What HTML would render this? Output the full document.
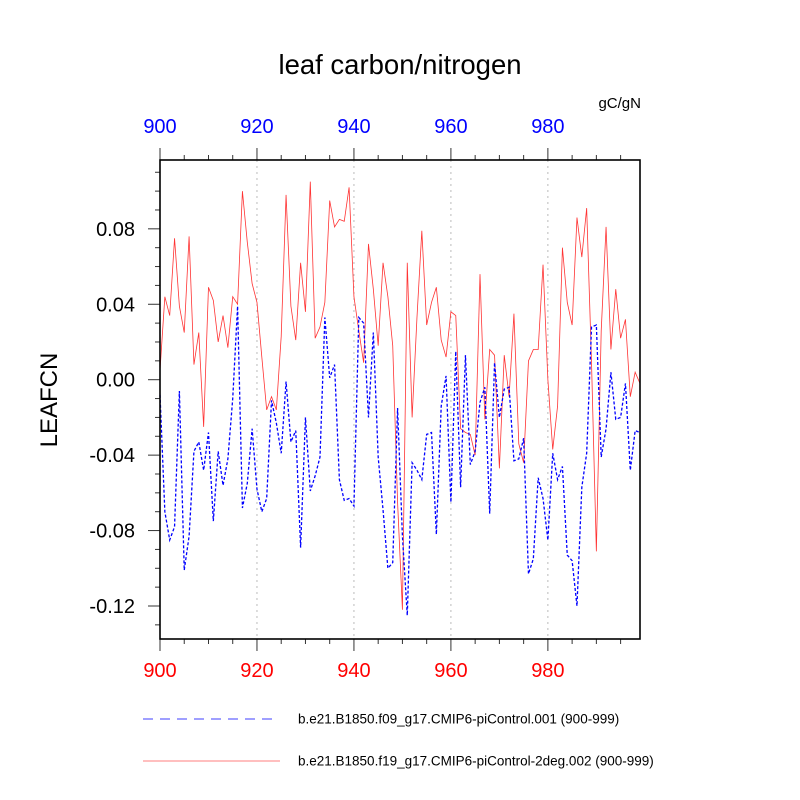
<!DOCTYPE html>
<html><head><meta charset="utf-8"><style>
html,body{margin:0;padding:0;background:#fff;width:800px;height:800px;overflow:hidden}
text{font-family:"Liberation Sans",Arial,sans-serif}
</style></head><body>
<svg id="chart" width="800" height="800" xmlns="http://www.w3.org/2000/svg">
<text x="400" y="74" font-size="27.5" text-anchor="middle">leaf carbon/nitrogen</text>
<text x="641" y="108" font-size="15" text-anchor="end">gC/gN</text>
<text x="0" y="0" font-size="24" text-anchor="middle" transform="translate(57,400) rotate(-90)">LEAFCN</text>
<g id="grid"></g><g id="axes"></g><g id="series"></g>
<rect x="160" y="160" width="480" height="479" fill="none" stroke="#000" stroke-width="1.6"/>
<line x1="143" y1="719" x2="278" y2="719" stroke="#00f" stroke-width="0.8" stroke-dasharray="10,7"/>
<text x="298" y="723.5" font-size="13.5">b.e21.B1850.f09_g17.CMIP6-piControl.001 (900-999)</text>
<line x1="143" y1="761" x2="280" y2="761" stroke="#f00" stroke-width="0.6"/>
<text x="298" y="765.5" font-size="13.5">b.e21.B1850.f19_g17.CMIP6-piControl-2deg.002 (900-999)</text>
</svg>
<script>
const years = Array.from({length:100},(_,i)=>900+i);
const redValues = [0.005,0.044,0.034,0.075,0.039,0.025,0.076,0.008,0.025,-0.025,0.049,0.042,0.020,0.034,0.017,0.044,0.040,0.100,0.073,0.051,0.041,0.012,-0.016,-0.009,-0.016,0.023,0.098,0.039,0.021,0.062,0.036,0.105,0.022,0.028,0.041,0.095,0.081,0.085,0.084,0.102,0.044,0.026,0.009,0.072,0.048,0.018,0.062,0.044,0.018,-0.065,-0.122,0.062,-0.020,0.033,0.079,0.029,0.041,0.049,0.021,0.012,0.036,0.034,-0.026,-0.028,-0.029,-0.040,0.056,-0.021,0.016,0.013,-0.047,0.013,-0.009,0.035,-0.034,-0.044,0.010,0.016,0.016,0.061,0.000,-0.037,-0.014,0.070,0.041,0.029,0.086,0.065,0.091,0.009,-0.091,0.026,0.081,0.016,0.048,0.022,0.032,-0.009,0.004,-0.002];
const blueValues = [-0.008,-0.070,-0.085,-0.078,-0.006,-0.101,-0.083,-0.038,-0.033,-0.048,-0.028,-0.075,-0.038,-0.056,-0.042,-0.010,0.039,-0.068,-0.055,-0.026,-0.058,-0.070,-0.063,-0.011,-0.023,-0.039,-0.001,-0.033,-0.027,-0.089,-0.020,-0.059,-0.051,-0.041,0.033,0.001,0.008,-0.053,-0.064,-0.063,-0.067,0.033,0.030,-0.020,0.025,-0.041,-0.069,-0.100,-0.097,-0.015,-0.083,-0.125,-0.044,-0.048,-0.053,-0.029,-0.028,-0.082,-0.014,0.002,-0.065,0.015,-0.057,0.013,-0.045,-0.038,-0.012,-0.004,-0.071,0.009,-0.020,-0.005,-0.004,-0.043,-0.042,-0.031,-0.103,-0.095,-0.052,-0.063,-0.085,-0.039,-0.053,-0.046,-0.093,-0.096,-0.120,-0.057,-0.039,0.028,0.029,-0.041,-0.026,0.004,-0.021,-0.020,-0.002,-0.048,-0.027,-0.028];
const xTickLabels = [900,920,940,960,980];
const yTickLabels = [-0.12,-0.08,-0.04,0.00,0.04,0.08];

const X0=160,X1=640,Y0=160,Y1=639;
const xMin=900,xMax=999,yMin=-0.1375,yMax=0.1165;
const xs=v=>X0+(v-xMin)/(xMax-xMin)*(X1-X0);
const ys=v=>Y1-(v-yMin)/(yMax-yMin)*(Y1-Y0);
const NS='http://www.w3.org/2000/svg';
function mk(tag,attrs,parent){const e=document.createElementNS(NS,tag);for(const k in attrs)e.setAttribute(k,attrs[k]);parent.appendChild(e);return e;}
const grid=document.getElementById('grid'),axes=document.getElementById('axes'),series=document.getElementById('series');

xTickLabels.forEach(v=>{
  const x=xs(v);
  if(v>xMin){const g=mk('line',{x1:x,y1:Y0,x2:x,y2:Y1,stroke:'#bbb','stroke-width':1,'stroke-dasharray':'2,4'},grid);
  
  }
  const tb=mk('text',{x:x,y:677,'font-size':20,fill:'#f00','text-anchor':'middle'},axes);tb.textContent=v;
  
  
  const tt=mk('text',{x:x,y:133,'font-size':20,fill:'#00f','text-anchor':'middle'},axes);tt.textContent=v;
  
  
});
for(let v=900;v<=995;v+=5){
  const x=xs(v),len=(v%20===0)?12:5;
  const a=mk('line',{x1:x,y1:Y1,x2:x,y2:Y1+len,stroke:'#333','stroke-width':1},axes);
  
  
  const b=mk('line',{x1:x,y1:Y0,x2:x,y2:Y0-len,stroke:'#333','stroke-width':1},axes);
  
  
}
for(let k=-13;k<=11;k++){
  const v=k/100,y=ys(v),major=(k%4===0);
  const t=mk('line',{x1:X0-(major?12:5),y1:y,x2:X0,y2:y,stroke:'#333','stroke-width':1},axes);
  
  
}
yTickLabels.forEach(v=>{
  const t=mk('text',{x:135,y:ys(v)+7,'font-size':20,'text-anchor':'end'},axes);t.textContent=v.toFixed(2);
  
  
});
function line(vals,color,dash,w,name){
  const pts=vals.map((v,i)=>xs(years[i]).toFixed(2)+','+ys(v).toFixed(2)).join(' ');
  const p=mk('polyline',{points:pts,fill:'none',stroke:color,'stroke-width':w},series);
  if(dash)p.setAttribute('stroke-dasharray',dash);
  
  
}
line(redValues,'#f33',null,0.8,'series-2deg-line');
line(blueValues,'#00f','3,2',1.3,'series-control-line');
</script>
</body></html>
